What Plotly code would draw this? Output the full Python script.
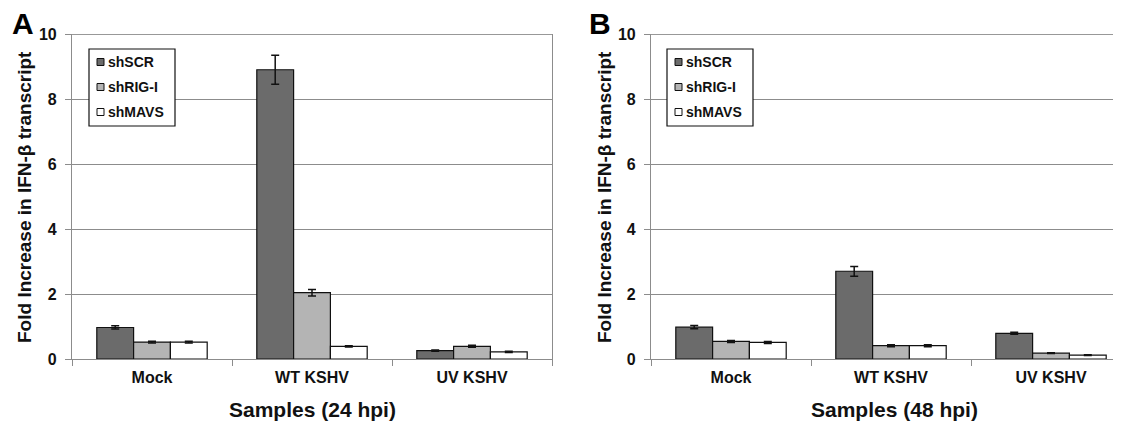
import plotly.graph_objects as go

categories = ["Mock", "WT KSHV", "UV KSHV"]
series_names = ["shSCR", "shRIG-I", "shMAVS"]
series_colors = ["#6b6b6b", "#b4b4b4", "#ffffff"]

# Panel A (24 hpi)
a_shSCR = [0.97, 8.90, 0.26]
a_shSCR_err = [0.05, 0.45, 0.02]
a_shRIG = [0.52, 2.04, 0.39]
a_shRIG_err = [0.03, 0.10, 0.03]
a_shMAVS = [0.52, 0.39, 0.22]
a_shMAVS_err = [0.03, 0.02, 0.02]

# Panel B (48 hpi)
b_shSCR = [0.98, 2.70, 0.79]
b_shSCR_err = [0.05, 0.15, 0.03]
b_shRIG = [0.54, 0.41, 0.18]
b_shRIG_err = [0.03, 0.03, 0.01]
b_shMAVS = [0.51, 0.41, 0.12]
b_shMAVS_err = [0.03, 0.03, 0.01]

y_ticks = [0, 2, 4, 6, 8, 10]
panel_letters = ["A", "B"]
x_titles = ["Samples (24 hpi)", "Samples (48 hpi)"]
y_title = "Fold Increase in IFN-β transcript"

FONT = "Liberation Sans, Arial, sans-serif"
OFF = 8                      # page body margin
W, H = 1121 - OFF, 424 - OFF


def px(x):
    return (x - OFF) / W


def py(y):
    return 1 - (y - OFF) / H


fig = go.Figure()

panels = [
    ("x", "y", [a_shSCR, a_shRIG, a_shMAVS], [a_shSCR_err, a_shRIG_err, a_shMAVS_err]),
    ("x2", "y2", [b_shSCR, b_shRIG, b_shMAVS], [b_shSCR_err, b_shRIG_err, b_shMAVS_err]),
]

for xa, ya, vals, errs in panels:
    for name, color, v, e in zip(series_names, series_colors, vals, errs):
        fig.add_trace(go.Bar(
            x=categories, y=v, name=name, xaxis=xa, yaxis=ya,
            marker=dict(color=color, line=dict(color="#111111", width=1.2)),
            error_y=dict(type="data", array=e, color="#111111", thickness=1.5, width=4),
            showlegend=False,
        ))

ydom = [py(359), py(34)]
xa_dom = [px(72), px(552)]
xb_dom = [px(651), 1.0]

axis_common_x = dict(
    type="category", showline=True, linecolor="#8c8c8c", linewidth=1.2,
    ticks="outside", tickson="boundaries", ticklen=6, tickcolor="#8c8c8c",
    tickfont=dict(family=FONT, size=16, color="#111111", weight="bold"),
    showgrid=False, zeroline=False, automargin=False, ticklabelstandoff=4,
)
axis_common_y = dict(
    range=[0, 10], tickvals=y_ticks, showline=True, linecolor="#8c8c8c", linewidth=1.2,
    ticks="outside", ticklen=6, tickcolor="#8c8c8c",
    tickfont=dict(family=FONT, size=16, color="#111111", weight="bold"),
    showgrid=True, gridcolor="#8c8c8c", gridwidth=1, zeroline=False,
    ticklabelstandoff=5, automargin=False,
)

fig.update_layout(
    width=W, height=H,
    margin=dict(l=0, r=0, t=0, b=0, autoexpand=False),
    paper_bgcolor="white", plot_bgcolor="white",
    barmode="group", bargap=0.31, bargroupgap=0,
    xaxis=dict(domain=xa_dom, range=[-0.5, 2.5], anchor="y", **axis_common_x),
    yaxis=dict(domain=ydom, anchor="x", mirror=True, **axis_common_y),
    xaxis2=dict(domain=xb_dom, range=[-0.5, -0.5 + (1121 - 651) / 160], anchor="y2", **axis_common_x),
    yaxis2=dict(domain=ydom, anchor="x2", **axis_common_y),
    showlegend=False,
)

shapes = []
# darker top border at y = 10
for xa, ya in [("x", "y"), ("x2", "y2")]:
    shapes.append(dict(type="line", xref=f"{xa} domain", yref=ya, x0=0, x1=1, y0=10, y1=10,
                       line=dict(color="#333333", width=1.2), layer="above"))

annotations = []
# legends (box, swatches, labels)
for box_left in [89, 667]:
    shapes.append(dict(type="rect", xref="paper", yref="paper",
                       x0=px(box_left), x1=px(box_left + 86), y0=py(49), y1=py(126),
                       line=dict(color="#111111", width=1.2), fillcolor="white", layer="above"))
    for k, (name, color) in enumerate(zip(series_names, series_colors)):
        yc = 62 + 25 * k
        shapes.append(dict(type="rect", xref="paper", yref="paper",
                           x0=px(box_left + 8), x1=px(box_left + 15), y0=py(yc + 3.5), y1=py(yc - 3.5),
                           line=dict(color="#111111", width=1), fillcolor=color, layer="above"))
        annotations.append(dict(text=name, x=px(box_left + 17), y=py(yc), xref="paper", yref="paper",
                                showarrow=False, xanchor="left", yanchor="middle",
                                font=dict(family=FONT, size=14, color="#111111", weight="bold")))

for i, (letter, xt) in enumerate(zip(panel_letters, x_titles)):
    lx = [23, 600][i]
    xc = [312, 894][i]
    ytx = [24, 604][i]
    annotations.append(dict(text=letter, x=px(lx), y=py(24), xref="paper", yref="paper",
                            showarrow=False, xanchor="center", yanchor="middle",
                            font=dict(family=FONT, size=30, color="#000000", weight="bold")))
    annotations.append(dict(text=xt, x=px(xc), y=py(409), xref="paper", yref="paper",
                            showarrow=False, xanchor="center", yanchor="middle",
                            font=dict(family=FONT, size=21, color="#111111", weight="bold")))
    annotations.append(dict(text=y_title, x=px(ytx), y=py(197), xref="paper", yref="paper",
                            showarrow=False, xanchor="center", yanchor="middle", textangle=-90,
                            font=dict(family=FONT, size=19, color="#111111", weight="bold")))

fig.update_layout(shapes=shapes, annotations=annotations)

fig.write_html("out.html")
